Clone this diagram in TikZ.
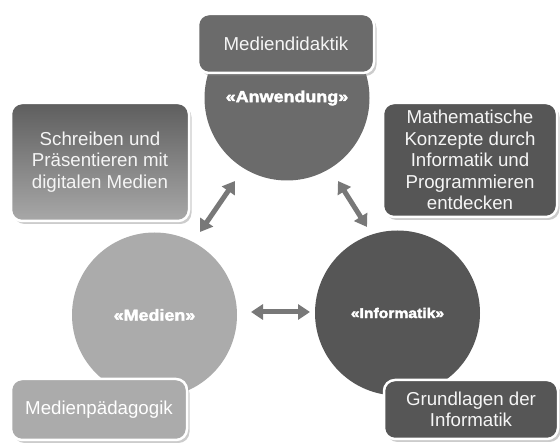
\documentclass[tikz,border=0pt]{standalone}
\usepackage{fontspec}
\setmainfont{Liberation Sans}
\newfontfamily\heavy{Liberation Sans}[FakeStretch=1.12,FakeBold=2.5]
\usetikzlibrary{shadows,arrows.meta}
\definecolor{cAnw}{HTML}{6B6B6B}
\definecolor{cMed}{HTML}{ABABAB}
\definecolor{cInf}{HTML}{565656}
\definecolor{cArr}{HTML}{787878}
\definecolor{cTxt}{HTML}{F5F5F5}
\definecolor{gTop}{HTML}{5E5E5E}
\definecolor{gBot}{HTML}{A8A8A8}
\begin{document}
\begin{tikzpicture}[x=1pt,y=-1pt,
  circ/.style={circle, minimum size=165pt, inner sep=0pt, text=white,
    font=\heavy\bfseries\fontsize{16}{18}\selectfont},
  box/.style={rectangle, rounded corners=11pt, draw=white, line width=2.5pt,
    text=cTxt, align=center, inner sep=0pt,
    font=\fontsize{18.7}{21.5}\selectfont,
    drop shadow={shadow xshift=2.5pt, shadow yshift=-3pt, opacity=0.4}},
  arr/.style={draw=cArr, line width=5pt,
    {Triangle[width=15pt,length=12pt]}-{Triangle[width=15pt,length=12pt]}}]
\useasboundingbox (0,0) rectangle (560,443);

% circles
\node[circ, fill=cAnw] (anw) at (287,98) {\raisebox{-5pt}{«Anwendung»}};
\node[circ, fill=cMed] (med) at (154.5,315) {«Medien»};
\node[circ, fill=cInf, font=\heavy\bfseries\fontsize{14}{16}\selectfont] (inf) at (397.5,313) {«Informatik»};

% boxes
\node[box, fill=cAnw, minimum width=176pt, minimum height=59pt] (did) at (286,43.5) {Mediendidaktik};
\node[box, top color=gTop, bottom color=gBot, minimum width=178pt, minimum height=118pt] (schr) at (100,162)
  {Schreiben und\\Präsentieren mit\\digitalen Medien};
\node[box, fill=cInf, minimum width=174pt, minimum height=114pt] (math) at (470,160)
  {Mathematische\\Konzepte durch\\Informatik und\\Programmieren\\entdecken};
\node[box, fill=cMed, text=white, minimum width=176pt, minimum height=61pt] (paed) at (99,409.5) {Medienpädagogik};
\node[box, fill=cInf, minimum width=174pt, minimum height=59pt] (grund) at (471,409.5) {Grundlagen der\\Informatik};

% arrows
\coordinate (l1) at (200,232);
\coordinate (l2) at (235,181);
\coordinate (r1) at (338,181);
\coordinate (r2) at (367,227);
\coordinate (h1) at (251,312);
\coordinate (h2) at (310,312);
\draw[arr] (l1) -- (l2);
\draw[arr] (r1) -- (r2);
\draw[arr] (h1) -- (h2);
\end{tikzpicture}
\end{document}
